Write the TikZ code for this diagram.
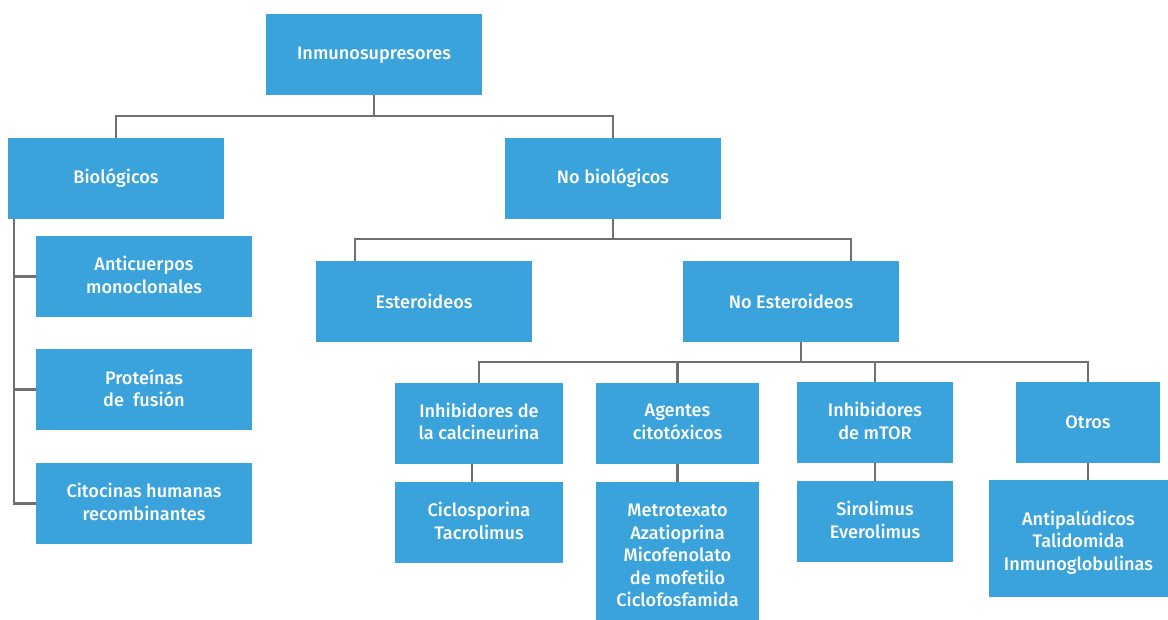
\documentclass[tikz,border=0pt]{standalone}
\usepackage{fontspec}
\setmainfont{Fira Sans Medium}
\definecolor{boxblue}{HTML}{3AA3DC}
\definecolor{linegray}{HTML}{707070}
% name, x1, y1, x2, y2, text shift (px), text
\newcommand{\mybox}[7]{%
  \node[box, minimum width={(#4-#2)*0.75pt}, minimum height={(#5-#3)*0.75pt}] (#1) at ({(#2+#4)/2},{(#3+#5)/2}) {};
  \node[txt] (#1-t) at ([yshift={-(#6)*0.75pt}]#1.center) {#7};}
\begin{document}
\begin{tikzpicture}[x=0.75pt,y=-0.75pt,
  box/.style={fill=boxblue, draw=none, inner sep=0pt},
  txt/.style={inner sep=0pt, align=center, text=white,
    font=\fontsize{13.6}{16.9}\selectfont},
  conn/.style={draw=linegray, line width=1.9pt}]
\useasboundingbox (0,0) rectangle (1168,620);
\mybox{top}{266}{14}{482}{95}{0.5}{Inmunosupresores}
\mybox{bio}{8}{138}{224}{219}{0}{Biológicos}
\mybox{nobio}{505}{138}{721}{219}{0}{No biológicos}
\mybox{anti}{36}{236}{252}{317}{-1.5}{Anticuerpos\\monoclonales}
\mybox{prot}{36}{349}{252}{430}{-1.5}{Proteínas\\de\ \ fusión}
\mybox{cito}{36}{463}{252}{544}{-1.5}{Citocinas humanas\\recombinantes}
\mybox{est}{316}{261}{532}{342}{0}{Esteroideos}
\mybox{noest}{683}{261}{899}{342}{0}{No Esteroideos}
\mybox{calc}{395}{383}{563}{464}{-2}{Inhibidores de\\la calcineurina}
\mybox{agen}{596}{383}{759}{464}{-1.5}{Agentes\\citotóxicos}
\mybox{mtor}{797}{382}{953}{463}{-1.5}{Inhibidores\\de mTOR}
\mybox{otros}{1016}{382}{1160}{463}{0}{Otros}
\mybox{cicl}{395}{482}{563}{563}{-1.5}{Ciclosporina\\Tacrolimus}
\mybox{metr}{596}{482}{759}{620}{4.5}{Metrotexato\\Azatioprina\\Micofenolato\\de mofetilo\\Ciclofosfamida}
\mybox{siro}{797}{481}{953}{562}{-1.5}{Sirolimus\\Everolimus}
\mybox{anpa}{989}{480}{1168}{597}{4}{Antipalúdicos\\Talidomida\\Inmunoglobulinas}
% buses
\coordinate (b1) at (0,116);
\coordinate (b2) at (0,239);
\coordinate (b3) at (0,362);
\coordinate (L) at (14,0);
\coordinate (estin) at (355,0);
\coordinate (noestin) at (851,0);
\coordinate (noestout) at (801,0);
\coordinate (calcout) at (472,0);
\draw[conn] (top.south) -- (top.south |- b1);
\draw[conn] (bio.north) -- (bio.north |- b1) -| (nobio.north);
\draw[conn] (nobio.south) -- (nobio.south |- b2);
\draw[conn] (estin |- est.north) -- (estin |- b2) -- (noestin |- b2) -- (noestin |- noest.north);
\draw[conn] (noestout |- noest.south) -- (noestout |- b3);
\draw[conn] (calc.north) -- (calc.north |- b3) -| (otros.north);
\draw[conn] (agen.north) -- (agen.north |- b3);
\draw[conn] (mtor.north) -- (mtor.north |- b3);
\draw[conn] (L |- bio.south) -- (L |- cito.west) -- (cito.west);
\draw[conn] (L |- anti.west) -- (anti.west);
\draw[conn] (L |- prot.west) -- (prot.west);
\draw[conn] (calcout |- calc.south) -- (calcout |- cicl.north);
\draw[conn] (agen.south) -- (metr.north);
\draw[conn] (mtor.south) -- (siro.north);
\draw[conn] (otros.south) -- (otros.south |- anpa.north);
\end{tikzpicture}
\end{document}
